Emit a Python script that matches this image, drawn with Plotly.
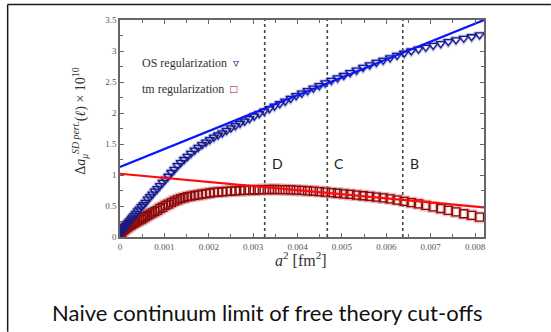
import plotly.graph_objects as go

# Lattice spacings (fm) of the free-theory evaluations
a_fm = [0.001, 0.002, 0.003, 0.004, 0.005, 0.006, 0.007, 0.008, 0.009, 0.010,
        0.011, 0.012, 0.013, 0.014, 0.015, 0.016, 0.017, 0.018, 0.019, 0.020,
        0.021, 0.022, 0.023, 0.024, 0.025, 0.026, 0.027, 0.028, 0.029, 0.030,
        0.031, 0.032, 0.033, 0.034, 0.035, 0.036, 0.037, 0.038, 0.039, 0.040,
        0.041, 0.042, 0.043, 0.044, 0.045, 0.046, 0.047, 0.048, 0.049, 0.050,
        0.051, 0.052, 0.053, 0.054, 0.055, 0.056, 0.057, 0.058, 0.059, 0.060,
        0.061, 0.062, 0.063, 0.064, 0.065, 0.066, 0.067, 0.068, 0.069, 0.070,
        0.071, 0.072, 0.073, 0.074, 0.075, 0.076, 0.077, 0.078, 0.079, 0.080,
        0.081, 0.082, 0.083, 0.084, 0.085, 0.086, 0.087, 0.088, 0.089, 0.090]

# Delta a_mu^{SD pert.}(l) x 10^10, OS regularization
os_values = [0.05, 0.05, 0.06, 0.07, 0.08, 0.09, 0.10, 0.11, 0.13, 0.15,
             0.17, 0.19, 0.21, 0.24, 0.26, 0.29, 0.32, 0.35, 0.38, 0.42,
             0.45, 0.49, 0.52, 0.56, 0.61, 0.65, 0.69, 0.74, 0.78, 0.83,
             0.88, 0.93, 0.98, 1.04, 1.09, 1.15, 1.20, 1.25, 1.30, 1.35,
             1.40, 1.445, 1.49, 1.53, 1.57, 1.61, 1.645, 1.68, 1.72, 1.76,
             1.795, 1.835, 1.87, 1.91, 1.95, 1.99, 2.03, 2.07, 2.11, 2.15,
             2.19, 2.235, 2.28, 2.32, 2.36, 2.40, 2.44, 2.485, 2.525, 2.565,
             2.605, 2.65, 2.69, 2.735, 2.775, 2.815, 2.85, 2.89, 2.93, 2.965,
             3.00, 3.03, 3.06, 3.09, 3.12, 3.15, 3.18, 3.205, 3.23, 3.26]

# Delta a_mu^{SD pert.}(l) x 10^10, tm regularization
tm_values = [0.04, 0.05, 0.06, 0.07, 0.08, 0.09, 0.10, 0.11, 0.12, 0.13,
             0.14, 0.15, 0.165, 0.175, 0.19, 0.20, 0.215, 0.23, 0.245, 0.26,
             0.275, 0.29, 0.31, 0.33, 0.35, 0.37, 0.39, 0.41, 0.43, 0.46,
             0.48, 0.51, 0.53, 0.555, 0.58, 0.60, 0.62, 0.635, 0.65, 0.66,
             0.67, 0.68, 0.69, 0.70, 0.71, 0.72, 0.725, 0.73, 0.735, 0.74,
             0.745, 0.75, 0.752, 0.755, 0.758, 0.762, 0.765, 0.766, 0.766, 0.765,
             0.763, 0.76, 0.756, 0.752, 0.745, 0.74, 0.732, 0.724, 0.715, 0.706,
             0.696, 0.686, 0.676, 0.665, 0.654, 0.642, 0.63, 0.615, 0.595, 0.575,
             0.555, 0.535, 0.51, 0.485, 0.46, 0.43, 0.405, 0.375, 0.35, 0.32]

# Linear continuum fits: [intercept, slope]
fit_os = [1.13, 289.0]
fit_tm = [1.02, -66.0]
fit_range = [0.0, 0.0082]

# a^2 boundaries of the regions, with their labels
region_edges = [0.00326, 0.00467, 0.00637]
region_labels = ["D", "C", "B"]

x_ticks = [0, 0.001, 0.002, 0.003, 0.004, 0.005, 0.006, 0.007, 0.008]
x_tick_text = ["0", "0.001", "0.002", "0.003", "0.004", "0.005", "0.006", "0.007", "0.008"]
y_ticks = [0, 0.5, 1, 1.5, 2, 2.5, 3, 3.5]
y_tick_text = ["0", "0.5", "1", "1.5", "2", "2.5", "3", "3.5"]

a2 = [a * a for a in a_fm]

SERIF = "Liberation Serif"
SANS = "Lato"

fig = go.Figure()

# soft halo under the markers
fig.add_trace(go.Scatter(x=a2, y=tm_values, mode="markers", hoverinfo="skip",
                         marker=dict(symbol="square-open", size=9,
                                     color="rgba(210,120,120,0.45)",
                                     line=dict(width=3, color="rgba(210,120,120,0.45)"))))
fig.add_trace(go.Scatter(x=a2, y=os_values, mode="markers", hoverinfo="skip",
                         marker=dict(symbol="triangle-down-open", size=9,
                                     color="rgba(120,135,215,0.45)",
                                     line=dict(width=3, color="rgba(120,135,215,0.45)"))))

fig.add_trace(go.Scatter(x=a2, y=tm_values, mode="markers", name="tm regularization",
                         marker=dict(symbol="square-open", size=8, color="#8b0a0a",
                                     line=dict(width=1.3, color="#8b0a0a"))))
fig.add_trace(go.Scatter(x=a2, y=os_values, mode="markers", name="OS regularization",
                         marker=dict(symbol="triangle-down-open", size=8, color="#1a1a85",
                                     line=dict(width=1.3, color="#1a1a85"))))

for (b0, b1), col in ((fit_os, "#0a14ff"), (fit_tm, "#ff0a0a")):
    fig.add_trace(go.Scatter(x=fit_range, y=[b0 + b1 * x for x in fit_range],
                             mode="lines", line=dict(color=col, width=2.2),
                             hoverinfo="skip"))

shapes = []
annotations = []
for x, lab in zip(region_edges, region_labels):
    shapes.append(dict(type="line", xref="x", yref="y", x0=x, x1=x, y0=0, y1=3.5,
                       line=dict(color="#444444", width=1.6, dash="dot"), layer="below"))
    annotations.append(dict(x=x, y=1.19, xref="x", yref="y", text=lab, showarrow=False,
                            xanchor="left", yanchor="middle", xshift=5,
                            font=dict(family=SANS, size=14, color="#222222")))

# slide frame
L, R, T, B = 119.5, 484.0, 19.5, 237.0
W, H = 551, 332
pw, ph = R - L, B - T
def px(xp): return (xp - L) / pw
def py(yp): return (B - yp) / ph
shapes.append(dict(type="line", xref="paper", yref="paper", x0=px(7), x1=px(551),
                   y0=py(4), y1=py(4), line=dict(color="#1a1a1a", width=1.5)))
shapes.append(dict(type="line", xref="paper", yref="paper", x0=px(7), x1=px(7),
                   y0=py(4), y1=py(332), line=dict(color="#1a1a1a", width=1.5)))

# legend rows
annotations.append(dict(x=px(140), y=py(63), xref="paper", yref="paper",
                        xanchor="left", yanchor="middle", showarrow=False,
                        text="OS regularization  <span style='color:#1a1a85'>▿</span>",
                        font=dict(family=SERIF, size=12, color="#333333")))
annotations.append(dict(x=px(140), y=py(89), xref="paper", yref="paper",
                        xanchor="left", yanchor="middle", showarrow=False,
                        text="tm regularization  <span style='color:#8b0a0a'>□</span>",
                        font=dict(family=SERIF, size=12, color="#333333")))

# axis titles
annotations.append(dict(x=px(301), y=py(259), xref="paper", yref="paper",
                        xanchor="center", yanchor="middle", showarrow=False,
                        text="<i>a</i><sup>2</sup> [fm<sup>2</sup>]",
                        font=dict(family=SERIF, size=16, color="#333333")))
annotations.append(dict(x=px(80), y=py(121), xref="paper", yref="paper",
                        xanchor="center", yanchor="middle", showarrow=False,
                        textangle=-90,
                        text="Δ<i>a</i><sub><i>μ</i></sub><sup><i>SD pert.</i></sup>(<i>ℓ</i>) × 10<sup>10</sup>",
                        font=dict(family=SERIF, size=14, color="#333333")))

# slide caption
annotations.append(dict(x=px(267), y=py(313), xref="paper", yref="paper",
                        xanchor="center", yanchor="middle", showarrow=False,
                        text="Naive continuum limit of free theory cut-offs",
                        font=dict(family=SANS, size=22, color="#111111")))

axis_common = dict(showline=True, linecolor="#666666", linewidth=1.5, mirror="ticks",
                   ticks="inside", ticklen=4, tickcolor="#666666", tickwidth=1,
                   showgrid=False, zeroline=False,
                   tickfont=dict(family=SERIF, size=9, color="#555555"))

fig.update_layout(
    width=W, height=H,
    margin=dict(l=L, r=W - R, t=T, b=H - B),
    paper_bgcolor="white", plot_bgcolor="white",
    showlegend=False,
    shapes=shapes, annotations=annotations,
    xaxis=dict(range=[0, 0.0082], tickvals=x_ticks, ticktext=x_tick_text,
               minor=dict(dtick=0.0005, tick0=0, ticks="inside", ticklen=3,
                          tickcolor="#666666"),
               **axis_common),
    yaxis=dict(range=[0, 3.5], tickvals=y_ticks, ticktext=y_tick_text,
               minor=dict(dtick=0.25, tick0=0, ticks="inside", ticklen=3,
                          tickcolor="#666666"),
               **axis_common),
)

fig.write_html("out.html")
